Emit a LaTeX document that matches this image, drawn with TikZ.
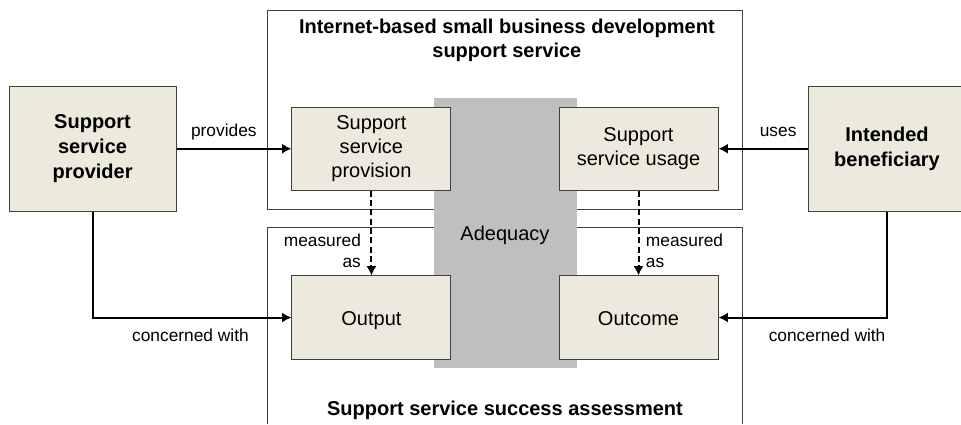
\documentclass[tikz,border=0pt]{standalone}
\usepackage{fontspec}
\setmainfont{Liberation Sans}
\usetikzlibrary{arrows.meta}

\definecolor{boxfill}{HTML}{ECEADD}
\definecolor{adequacygray}{HTML}{BFBFBF}
\definecolor{framegray}{HTML}{404040}

\begin{document}
\begin{tikzpicture}[
      outer_box/.style={draw=framegray, line width=0.75pt, fill=boxfill, minimum width=4.40cm, minimum height=3.30cm, align=center, font=\fontsize{15}{18.5}\selectfont\bfseries},
      inner_box/.style={draw=framegray, line width=0.75pt, fill=boxfill, minimum width=4.19cm, minimum height=2.19cm, align=center, font=\fontsize{15}{18}\selectfont},
      one_line/.style={text height=1.45em, text depth=0.3em},
      frame_line/.style={draw=framegray, line width=0.75pt},
      title_text/.style={align=center, font=\fontsize{15}{17.5}\selectfont\bfseries},
      label_text/.style={font=\fontsize{13}{15.75}\selectfont},
      solid_arrow/.style={line width=1.5pt, -{Latex[length=7pt,width=7.5pt]}},
      dashed_arrow/.style={line width=1.5pt, dash pattern=on 4.5pt off 2.5pt, -{Latex[length=7pt,width=7.5pt]}}
    ]

    % ------------------------------------------------------------------ %
    % Page size
    % ------------------------------------------------------------------ %

    \useasboundingbox (0cm,0cm) rectangle (25.33cm,11.18cm);


    % ------------------------------------------------------------------ %
    % Frames
    % ------------------------------------------------------------------ %

    % service frame
    \draw[frame_line] (7.06cm,5.67cm) rectangle (19.56cm,10.89cm);

    % assessment frame, open at the bottom
    \draw[frame_line] (7.06cm,0cm) -- (7.06cm,5.19cm) -- (19.56cm,5.19cm) -- (19.56cm,0cm);

    % adequacy band
    \fill[adequacygray] (11.44cm,1.48cm) rectangle (15.21cm,8.59cm);


    % ------------------------------------------------------------------ %
    % Boxes
    % ------------------------------------------------------------------ %

    \node[outer_box] (provider) at (2.44cm,7.26cm) {Support\\service\\provider};
    \node[outer_box, minimum width=4.12cm] (beneficiary) at (23.38cm,7.26cm) {Intended\\beneficiary};

    \node[inner_box] (provision) at (9.79cm,7.26cm) {Support\\service\\provision};
    \node[inner_box] (usage) at (16.83cm,7.26cm) {Support\\service usage};
    \node[inner_box, one_line] (output) at (9.79cm,2.81cm) {Output};
    \node[inner_box, one_line] (outcome) at (16.83cm,2.81cm) {Outcome};


    % ------------------------------------------------------------------ %
    % Arrows
    % ------------------------------------------------------------------ %

    \draw[solid_arrow] (provider) -- (provision);
    \draw[solid_arrow] (beneficiary) -- (usage);
    \draw[solid_arrow] (provider.south) |- (output.west);
    \draw[solid_arrow] (beneficiary.south) |- (outcome.east);
    \draw[dashed_arrow] (provision) -- (output);
    \draw[dashed_arrow] (usage) -- (outcome);


    % ------------------------------------------------------------------ %
    % Annotations
    % ------------------------------------------------------------------ %
    \node[title_text] (service_title) at (13.36cm,10.12cm) {Internet-based small business development\\support service};
    \node[title_text] (assessment_title) at (13.31cm,0.37cm) {Support service success assessment};
    \node[font=\fontsize{15}{18}\selectfont] (adequacy) at (13.31cm,4.99cm) {Adequacy};
    \node[label_text] (provides_lbl) at (5.90cm,7.70cm) {provides};
    \node[label_text] (uses_lbl) at (20.51cm,7.70cm) {uses};
    \node[label_text] (concerned_left) at (5.02cm,2.34cm) {concerned with};
    \node[label_text] (concerned_right) at (21.80cm,2.34cm) {concerned with};
    \node[label_text, align=right, anchor=east, inner sep=0pt] (measured_left) at (9.52cm,4.57cm) {measured\\as};
    \node[label_text, align=left, anchor=west, inner sep=0pt] (measured_right) at (17.02cm,4.57cm) {measured\\as};

    \end{tikzpicture}
\end{document}
